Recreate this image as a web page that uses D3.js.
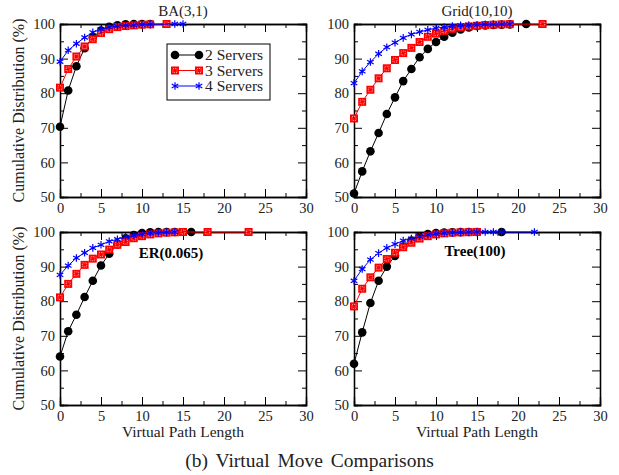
<!DOCTYPE html>
<html>
<head>
<meta charset="utf-8">
<script src="https://cdn.jsdelivr.net/npm/d3@7"></script>
<style>
  body { margin: 0; background: #fff; }
  svg text { font-family: "Liberation Serif", "Times New Roman", serif; fill: #222; }
</style>
</head>
<body>
<svg id="chart"></svg>
<script>
// series names and colours
const seriesNames = ['2 Servers', '3 Servers', '4 Servers'];

// BA(3,1)
const baX2 = [0, 1, 2, 3, 4, 5, 6, 7, 8, 9, 10, 11];
const baY2 = [70.3, 80.8, 87.8, 93.0, 96.2, 98.1, 99.2, 99.6, 99.9, 100, 100, 100];
const baX3 = [0, 1, 2, 3, 4, 5, 6, 7, 8, 9, 10, 11, 13];
const baY3 = [81.6, 87.0, 90.6, 93.5, 95.6, 97.4, 98.5, 99.1, 99.4, 99.6, 99.8, 99.9, 100];
const baX4 = [0, 1, 2, 3, 4, 5, 6, 7, 8, 9, 10, 11, 14, 15];
const baY4 = [89.1, 92.4, 94.3, 96.1, 97.6, 98.5, 99.1, 99.4, 99.6, 99.7, 99.8, 99.9, 100, 100];

// Grid(10,10)
const gridX2 = [0, 1, 2, 3, 4, 5, 6, 7, 8, 9, 10, 11, 12, 13, 14, 15, 16, 17, 18, 19, 21];
const gridY2 = [51.0, 57.4, 63.2, 68.5, 74.0, 78.8, 83.5, 87.0, 90.4, 92.8, 94.8, 96.3, 97.5, 98.4, 99.0, 99.4, 99.6, 99.7, 99.8, 99.9, 100];
const gridX3 = [0, 1, 2, 3, 4, 5, 6, 7, 8, 9, 10, 11, 12, 13, 14, 15, 16, 17, 18, 19, 23];
const gridY3 = [72.7, 77.5, 81.0, 84.3, 87.2, 89.6, 91.6, 93.1, 94.8, 96.3, 97.2, 98.0, 98.6, 99.0, 99.3, 99.5, 99.7, 99.8, 99.9, 99.95, 100];
const gridX4 = [0, 1, 2, 3, 4, 5, 6, 7, 8, 9, 10, 11, 12, 13, 14, 15, 16, 17, 18, 19];
const gridY4 = [82.9, 86.3, 89.0, 91.4, 93.3, 94.6, 96.0, 97.0, 97.7, 98.3, 98.8, 99.1, 99.4, 99.6, 99.7, 99.8, 99.9, 99.9, 99.95, 100];

// ER(0.065)
const erX2 = [0, 1, 2, 3, 4, 5, 6, 7, 8, 9, 10, 11, 12, 13, 14, 16];
const erY2 = [64.0, 71.3, 76.1, 81.2, 85.9, 90.3, 93.7, 96.4, 98.2, 99.1, 99.7, 99.9, 100, 100, 100, 100];
const erX3 = [0, 1, 2, 3, 4, 5, 6, 7, 8, 9, 10, 11, 12, 13, 14, 15, 18, 23];
const erY3 = [81.1, 85.0, 87.9, 90.5, 92.3, 93.5, 94.9, 96.3, 97.1, 98.2, 98.8, 99.3, 99.6, 99.8, 99.9, 100, 100, 100];
const erX4 = [0, 1, 2, 3, 4, 5, 6, 7, 8, 9, 10, 11, 12, 13, 14];
const erY4 = [87.6, 90.3, 92.5, 94.0, 95.4, 96.3, 97.3, 97.9, 98.6, 99.0, 99.4, 99.7, 99.8, 99.9, 100];

// Tree(100)
const treeX2 = [0, 1, 2, 3, 4, 5, 6, 7, 8, 9, 10, 11, 12, 13, 14, 15, 18];
const treeY2 = [61.9, 71.0, 79.5, 85.9, 90.0, 93.1, 95.8, 97.5, 98.6, 99.4, 99.7, 99.85, 99.9, 99.95, 100, 100, 100];
const treeX3 = [0, 1, 2, 3, 4, 5, 6, 7, 8, 9, 10, 11, 12, 13, 14, 15];
const treeY3 = [78.5, 83.6, 86.9, 89.7, 92.2, 94.0, 95.6, 96.9, 98.1, 98.8, 99.3, 99.6, 99.8, 99.9, 99.95, 100];
const treeX4 = [0, 1, 2, 3, 4, 5, 6, 7, 8, 9, 10, 11, 12, 13, 14, 15, 16, 17, 18, 22];
const treeY4 = [85.9, 89.3, 92.0, 93.9, 95.4, 96.5, 97.5, 98.1, 98.7, 99.2, 99.5, 99.7, 99.8, 99.9, 99.95, 100, 100, 100, 100, 100];

// tick values
const xTicks = [0, 5, 10, 15, 20, 25, 30];
const xMinor = [2.5, 7.5, 12.5, 17.5, 22.5, 27.5];
const yTicks = [50, 60, 70, 80, 90, 100];
const yMinor = [55, 65, 75, 85, 95];

const panels = [
  { title: 'BA(3,1)', xs: [baX2, baX3, baX4], ys: [baY2, baY3, baY4], left: 60, top: 24, legend: true },
  { title: 'Grid(10,10)', xs: [gridX2, gridX3, gridX4], ys: [gridY2, gridY3, gridY4], left: 354, top: 24 },
  { title: 'ER(0.065)', xs: [erX2, erX3, erX4], ys: [erY2, erY3, erY4], left: 60, top: 232, titleInside: true, xLabel: true, tx: 171, ty: 258 },
  { title: 'Tree(100)', xs: [treeX2, treeX3, treeX4], ys: [treeY2, treeY3, treeY4], left: 354, top: 232, titleInside: true, xLabel: true, tx: 475, ty: 256 }
];

const W = 619, H = 475;
const pw = 246, ph = 173; // plot area size

const svg = d3.select('#chart').attr('width', W).attr('height', H);

// marker drawers: 0 circle, 1 square, 2 asterisk
const colors = ['#000', '#f00', '#00f'];
function drawMarker(g, type, x, y) {
  if (type === 0) {
    g.append('circle').attr('cx', x).attr('cy', y).attr('r', 4.3).attr('fill', '#000');
  } else if (type === 1) {
    g.append('rect').attr('x', x - 4).attr('y', y - 4).attr('width', 8).attr('height', 8).attr('fill', '#f00');
    g.append('rect').attr('x', x - 2).attr('y', y - 2).attr('width', 4).attr('height', 4)
      .attr('fill', 'none').attr('stroke', '#fbb').attr('stroke-width', 0.8).attr('stroke-dasharray', '1,1');
  } else {
    g.append('path').attr('transform', `translate(${x},${y})`)
      .attr('d', d3.symbol(d3.symbolAsterisk, 40)())
      .attr('stroke', '#00f').attr('stroke-width', 1.2).attr('fill', 'none');
  }
}

panels.forEach((p) => {
  const g = svg.append('g').attr('transform', `translate(${p.left},${p.top})`);
  const x = d3.scaleLinear().domain([0, 30]).range([0, pw]);
  const y = d3.scaleLinear().domain([50, 100]).range([ph, 0]);

  // axes with inward ticks on all four sides
  g.append('g').attr('transform', `translate(0,${ph})`)
    .call(d3.axisBottom(x).tickValues(xTicks).tickSize(-8).tickPadding(6));
  g.append('g').attr('transform', `translate(0,${ph})`)
    .call(d3.axisBottom(x).tickValues(xMinor).tickSize(-4).tickFormat(''));
  g.append('g').call(d3.axisTop(x).tickValues(xTicks).tickSize(-8).tickFormat(''));
  g.append('g').call(d3.axisTop(x).tickValues(xMinor).tickSize(-4).tickFormat(''));
  g.append('g').call(d3.axisLeft(y).tickValues(yTicks).tickSize(-8).tickPadding(5));
  g.append('g').call(d3.axisLeft(y).tickValues(yMinor).tickSize(-4).tickFormat(''));
  g.append('g').attr('transform', `translate(${pw},0)`)
    .call(d3.axisRight(y).tickValues(yTicks).tickSize(-8).tickFormat(''));
  g.append('g').attr('transform', `translate(${pw},0)`)
    .call(d3.axisRight(y).tickValues(yMinor).tickSize(-4).tickFormat(''));

  g.selectAll('.domain').attr('stroke', '#000').attr('stroke-width', 1.3);
  g.selectAll('.tick line').attr('stroke', '#000').attr('stroke-width', 1);
  g.selectAll('.tick text').attr('font-size', 14.5).attr('font-family', '"Liberation Serif", serif').attr('fill', '#222');

  // series, drawn 2 → 3 → 4 so blue is on top
  [0, 1, 2].forEach((s) => {
    const pts = p.xs[s].map((v, i) => [v, p.ys[s][i]]);
    g.append('path').datum(pts)
      .attr('d', d3.line().x((d) => x(d[0])).y((d) => y(d[1])))
      .attr('fill', 'none').attr('stroke', colors[s]).attr('stroke-width', 1);
    const mg = g.append('g');
    pts.forEach((d) => drawMarker(mg, s, x(d[0]), y(d[1])));
  });

  // titles
  if (p.titleInside) {
    svg.append('text').attr('x', p.tx).attr('y', p.ty).attr('text-anchor', 'middle')
      .attr('font-size', 15).attr('font-weight', 'bold').style('fill', '#000').text(p.title);
  } else {
    svg.append('text').attr('x', p.left + pw / 2).attr('y', p.top - 8).attr('text-anchor', 'middle')
      .attr('font-size', 15).text(p.title);
  }

  if (p.xLabel) {
    svg.append('text').attr('x', p.left + pw / 2).attr('y', p.top + ph + 32).attr('text-anchor', 'middle')
      .attr('font-size', 15.5).text('Virtual Path Length');
  }

  if (p.left < 100) {
    svg.append('text').attr('transform', `translate(24,${p.top + ph / 2}) rotate(-90)`)
      .attr('text-anchor', 'middle').attr('font-size', 16).text('Cumulative Distribution (%)');
  }

  if (p.legend) {
    const lg = g.append('g').attr('transform', `translate(${167 - p.left},${44 - p.top})`);
    lg.append('rect').attr('width', 103).attr('height', 56)
      .attr('fill', '#fff').attr('stroke', '#000').attr('stroke-width', 1);
    seriesNames.forEach((name, s) => {
      const ly = 11 + s * 15.5;
      lg.append('line').attr('x1', 8).attr('x2', 32).attr('y1', ly).attr('y2', ly)
        .attr('stroke', colors[s]).attr('stroke-width', 1);
      drawMarker(lg, s, 8, ly);
      drawMarker(lg, s, 32, ly);
      lg.append('text').attr('x', 38).attr('y', ly + 5).attr('font-size', 15.5).text(name);
    });
  }
});

svg.append('text').attr('x', W / 2).attr('y', 467).attr('text-anchor', 'middle')
  .attr('font-size', 19.5).attr('word-spacing', 3).text('(b) Virtual Move Comparisons');
</script>
</body>
</html>
